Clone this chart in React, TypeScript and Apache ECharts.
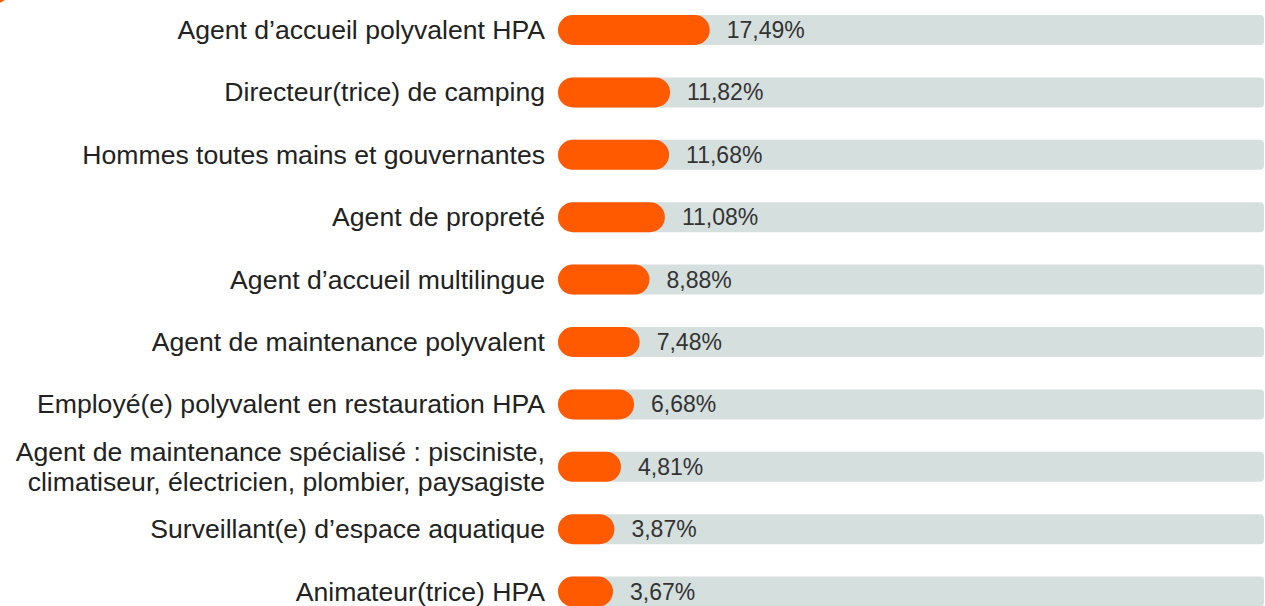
import React, { useEffect, useRef } from "react";
import * as echarts from "echarts";

const categories = [
  "Agent d’accueil polyvalent HPA",
  "Directeur(trice) de camping",
  "Hommes toutes mains et gouvernantes",
  "Agent de propreté",
  "Agent d’accueil multilingue",
  "Agent de maintenance polyvalent",
  "Employé(e) polyvalent en restauration HPA",
  "Agent de maintenance spécialisé : pisciniste,\nclimatiseur, électricien, plombier, paysagiste",
  "Surveillant(e) d’espace aquatique",
  "Animateur(trice) HPA",
];
const values = [17.49, 11.82, 11.68, 11.08, 8.88, 7.48, 6.68, 4.81, 3.87, 3.67];

const XMIN = -4.19;
const XMAX = 96.67;
const ORANGE = "#ff5a00";
const TRACK = "#d5dfde";
const FONT = "Liberation Sans, Arial, sans-serif";

export default function App() {
  const ref = useRef<HTMLDivElement>(null);
  useEffect(() => {
    if (!ref.current) return;
    const chart = echarts.init(ref.current, null, { renderer: "svg" });
    chart.setOption({
      animation: false,
      grid: {
        left: 558,
        right: 1,
        top: -1.2,
        bottom: -16.8,
        containLabel: false,
        outerBoundsMode: "none",
      },
      xAxis: { type: "value", min: XMIN, max: XMAX, show: false },
      yAxis: {
        type: "category",
        inverse: true,
        data: categories,
        axisLine: { show: false },
        axisTick: { show: false },
        splitLine: { show: false },
        axisLabel: {
          margin: 13,
          fontSize: 26.6,
          lineHeight: 30,
          color: "#222",
          fontFamily: FONT,
          align: "right",
        },
      },
      graphic: [
        { type: "circle", shape: { cx: -6, cy: -12, r: 16 }, style: { fill: ORANGE } },
      ],
      series: [
        {
          type: "custom",
          data: values.map((v, i) => [v, i]),
          encode: { x: 0, y: 1 },
          renderItem: (params: any, api: any) => {
            const v = api.value(0);
            const idx = api.value(1);
            const end = api.coord([v, idx]);
            const start = api.coord([XMIN, idx]);
            const stop = api.coord([XMAX, idx]);
            const h = 30;
            const y = end[1] - h / 2;
            return {
              type: "group",
              children: [
                {
                  type: "rect",
                  shape: { x: start[0], y, width: stop[0] - start[0], height: h, r: [15, 4, 4, 15] },
                  style: { fill: TRACK },
                },
                {
                  type: "rect",
                  shape: { x: start[0], y, width: end[0] - start[0], height: h, r: 15 },
                  style: { fill: ORANGE },
                },
                {
                  type: "text",
                  style: {
                    x: end[0] + 17,
                    y: end[1],
                    text: v.toFixed(2).replace(".", ",") + "%",
                    fill: "#333",
                    font: `23px ${FONT}`,
                    verticalAlign: "middle",
                    align: "left",
                  },
                },
              ],
            };
          },
        },
      ],
    });
    return () => chart.dispose();
  }, []);
  return <div ref={ref} style={{ width: 1265, height: 606, position: "absolute", left: 0, top: 0 }} />;
}
